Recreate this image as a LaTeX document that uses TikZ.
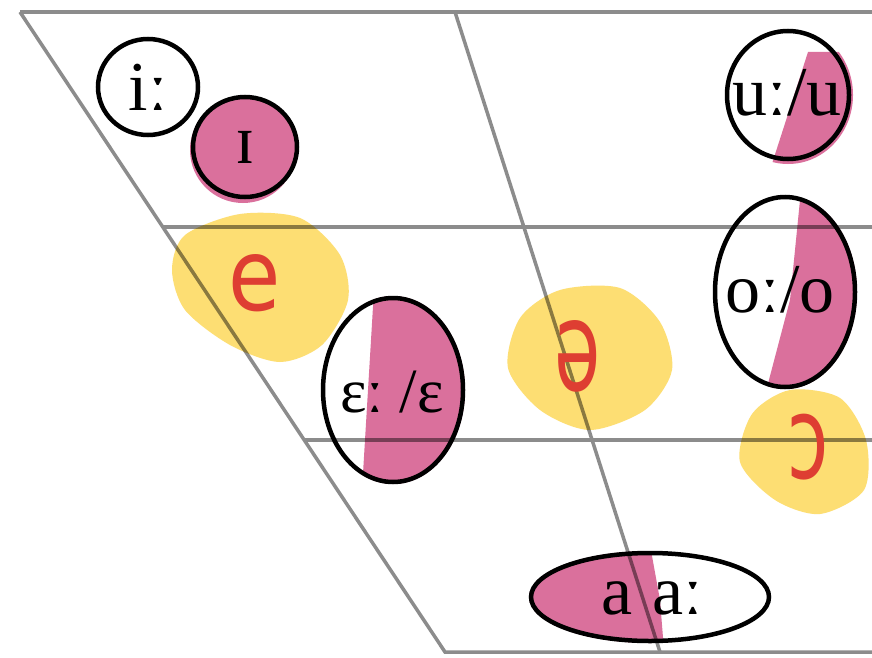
\documentclass[tikz,border=0pt]{standalone}
\usepackage{fontspec}
\setmainfont{Liberation Serif}
\newfontfamily\handfont{DejaVu Sans}
\definecolor{chartgray}{RGB}{140,140,140}
\definecolor{rose}{RGB}{218,112,156}
\definecolor{butter}{RGB}{253,222,115}
\definecolor{pen}{RGB}{222,62,50}

\begin{document}
\begin{tikzpicture}[x=1pt, y=-1pt,
  grid/.style={chartgray, line width=3.5pt},
  vowel/.style={inner sep=0pt, font=\fontsize{70}{76}\selectfont},
  ring/.style={draw=black, line width=4.5pt},
  half/.style={fill=rose, blend mode=multiply},
  blob/.style={fill=butter, blend mode=multiply},
  pencil/.style={pen, inner sep=0pt, font=\handfont\fontsize{100}{110}\selectfont}
]
\useasboundingbox (0,0) rectangle (872,658);
\fill[white] (0,0) rectangle (872,658);
% chart
\coordinate (tl) at (20,12);
\coordinate (tm) at (455,12);
\coordinate (tr) at (872,12);
\coordinate (bl) at (445,652);
\coordinate (bm) at (660,652);
\coordinate (br) at (872,652);
\draw[grid] (tl) -- (tr);
\draw[grid] (tl) -- (bl) -- (br);
\draw[grid] (tm) -- (bm);
\draw[grid] (163,227) -- (872,227);
\draw[grid] (304,440) -- (872,440);
% yellow marks
\fill[blob] plot[smooth cycle] coordinates {(185,235) (240,214) (300,218) (340,255)
  (348,300) (322,345) (280,362) (230,345) (185,310) (172,270)};
\fill[blob] plot[smooth cycle] coordinates {(520,318) (560,290) (620,288) (660,322)
  (672,370) (645,410) (590,430) (540,410) (508,368)};
\fill[blob] plot[smooth cycle] coordinates {(752,414) (790,390) (840,398) (866,440)
  (864,490) (820,514) (775,500) (740,462)};
% pink halves
\fill[half] (243,150) circle (53pt);
\begin{scope}
  \clip (393,390) ellipse (72pt and 94pt);
  \fill[half] (374,290) -- (470,290) -- (470,490) -- (362,490) -- cycle;
\end{scope}
\begin{scope}
  \clip (788,95) ellipse (65pt and 69pt);
  \fill[half] (808,52) -- (860,52) -- (860,170) -- (770,170) -- cycle;
\end{scope}
\begin{scope}
  \clip (785,292) ellipse (72pt and 97pt);
  \fill[half] (800,200) -- (860,200) -- (860,395) -- (765,395) -- (790,300) -- cycle;
\end{scope}
\begin{scope}
  \clip (650,597) ellipse (121pt and 46pt);
  \fill[half] (520,545) -- (650,545) -- (660,600) -- (664,650) -- (520,650) -- cycle;
\end{scope}
% vowels
\node[vowel] (ii) at (148,87) {iː};
\node[vowel] (ih) at (245,147) {ɪ};
\node[vowel, font=\fontsize{63}{70}\selectfont] (eh) at (392,392) {ɛː /ɛ};
\node[vowel] (uu) at (787,93) {uː/u};
\node[vowel] (oo) at (780,290) {oː/o};
\node[vowel] (aa) at (652,598) {a\hspace{20pt}aː};
\draw[ring] (148,87) ellipse (50pt and 48pt);
\draw[ring] (245,147) ellipse (52pt and 50pt);
\draw[ring] (393,390) ellipse (70pt and 92pt);
\draw[ring] (788,95) ellipse (61pt and 64pt);
\draw[ring] (785,292) ellipse (70pt and 95pt);
\draw[ring] (650,597) ellipse (119pt and 44pt);
% handwritten additions
\node[pencil, xscale=0.85] (e) at (255,283) {e};
\node[pencil, xscale=0.75, yscale=1.25] (schwa) at (578,356) {ə};
\node[pencil, xscale=0.75, yscale=1.15] (openo) at (808,447) {ɔ};
\end{tikzpicture}
\end{document}
